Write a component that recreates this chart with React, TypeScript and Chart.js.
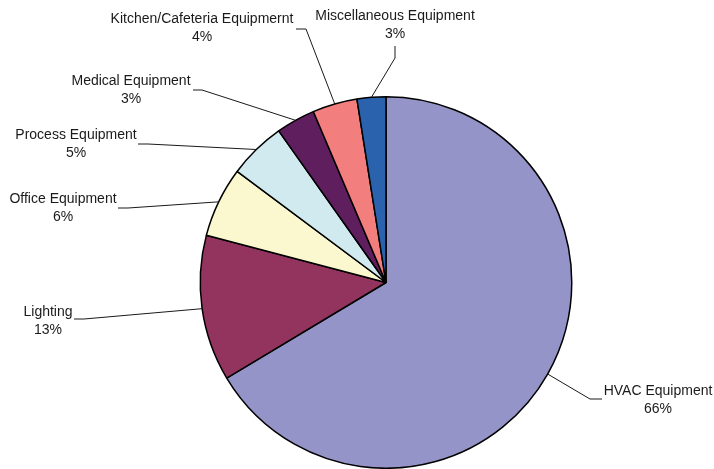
import React, { useEffect, useRef } from "react";
import { Chart, registerables } from "chart.js";

Chart.register(...registerables);

const categories = [
  "HVAC Equipment",
  "Lighting",
  "Office Equipment",
  "Process Equipment",
  "Medical Equipment",
  "Kitchen/Cafeteria Equipmernt",
  "Miscellaneous Equipment",
];
const shares = [66.4, 12.7, 6.1, 5.0, 3.4, 3.9, 2.5];
const colors = ["#9594C8", "#93345F", "#FBF8CF", "#D1EAF0", "#5F1F5F", "#F27E7E", "#2A62AD"];

// label layout: text centre (tx, ty of first line), leader start (sx, sy) and elbow (ex, ey)
const labelLayout = [
  { tx: 658, ty: 391, sx: 602, sy: 399, ex: 590, ey: 399 },
  { tx: 48, ty: 312, sx: 74, sy: 319, ex: 84, ey: 319 },
  { tx: 63, ty: 199, sx: 118, sy: 208, ex: 128, ey: 208 },
  { tx: 76, ty: 135, sx: 138, sy: 144, ex: 148, ey: 144 },
  { tx: 131, ty: 81, sx: 193, sy: 90, ex: 202, ey: 90 },
  { tx: 202, ty: 19, sx: 296, sy: 29, ex: 306, ey: 29 },
  { tx: 395, ty: 16, sx: 395, sy: 46, ex: 395, ey: 58 },
];

const leaderPlugin = {
  id: "leaderLabels",
  afterDatasetsDraw(chart: any) {
    const ctx = chart.ctx;
    const meta = chart.getDatasetMeta(0);
    const total = shares.reduce((a, b) => a + b, 0);
    ctx.save();
    meta.data.forEach((arc: any, i: number) => {
      const L = labelLayout[i];
      const mid = (arc.startAngle + arc.endAngle) / 2;
      const px = arc.x + Math.cos(mid) * arc.outerRadius;
      const py = arc.y + Math.sin(mid) * arc.outerRadius;
      ctx.strokeStyle = "#1a1a1a";
      ctx.lineWidth = 1;
      ctx.beginPath();
      ctx.moveTo(L.sx, L.sy);
      ctx.lineTo(L.ex, L.ey);
      ctx.lineTo(px, py);
      ctx.stroke();
      ctx.fillStyle = "#1a1a1a";
      ctx.font = '14px "Liberation Sans", Arial, sans-serif';
      ctx.textAlign = "center";
      ctx.textBaseline = "middle";
      ctx.fillText(categories[i], L.tx, L.ty);
      ctx.fillText(Math.round((shares[i] / total) * 100) + "%", L.tx, L.ty + 18);
    });
    ctx.restore();
  },
};

export default function App() {
  const ref = useRef<HTMLCanvasElement>(null);
  useEffect(() => {
    if (!ref.current) return;
    const chart = new Chart(ref.current, {
      type: "pie",
      data: {
        labels: categories,
        datasets: [
          {
            data: shares,
            backgroundColor: colors,
            borderColor: "#000000",
            borderWidth: 1.5,
            hoverBorderWidth: 1.5,
          },
        ],
      },
      options: {
        responsive: false,
        animation: false,
        events: [],
        layout: { padding: { left: 150, right: 92, top: 96, bottom: 0 } },
        plugins: {
          legend: { display: false },
          tooltip: { enabled: false },
        },
      },
      plugins: [leaderPlugin],
    });
    return () => chart.destroy();
  }, []);
  return (
    <div style={{ position: "fixed", left: 0, top: 0, width: 714, height: 469, background: "#fff" }}>
      <canvas ref={ref} width={714} height={469} />
    </div>
  );
}
